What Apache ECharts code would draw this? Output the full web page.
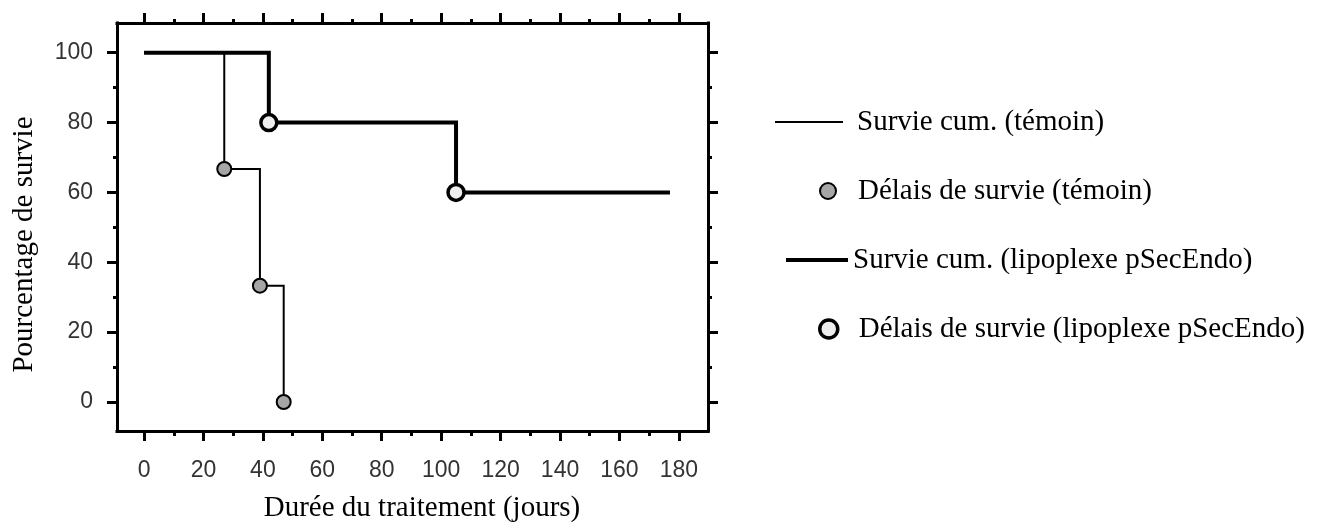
<!DOCTYPE html>
<html>
<head>
<meta charset="utf-8">
<script src="https://cdn.jsdelivr.net/npm/echarts@6.0.0/dist/echarts.min.js"></script>
<style>
  html, body { margin: 0; padding: 0; background: #fff; }
  #chart { width: 1328px; height: 530px; }
</style>
</head>
<body>
<div id="chart"></div>
<script>
// Cumulative survival (Kaplan–Meier steps) — control group vs pSecEndo lipoplex
const controlDays = [0, 27, 39, 47];
const controlSurvival = [100, 66.7, 33.3, 0];
const controlEventDays = [27, 39, 47];
const controlEventSurvival = [66.7, 33.3, 0];

const treatedDays = [0, 42, 105, 177];
const treatedSurvival = [100, 80, 60, 60];
const treatedEventDays = [42, 105];
const treatedEventSurvival = [80, 60];

const dayTicks = [0, 20, 40, 60, 80, 100, 120, 140, 160, 180];
const dayMinorTicks = [10, 30, 50, 70, 90, 110, 130, 150, 170];
const pctTicks = [0, 20, 40, 60, 80, 100];
const pctMinorTicks = [10, 30, 50, 70, 90];

const seriesNames = [
  'Survie cum. (témoin)',
  'Délais de survie (témoin)',
  'Survie cum. (lipoplexe pSecEndo)',
  'Délais de survie (lipoplexe pSecEndo)'
];
const xTitle = 'Durée du traitement (jours)';
const yTitle = 'Pourcentage de survie';

const pairs = (xs, ys) => xs.map((x, i) => [x, ys[i]]);

const SERIF = '"Liberation Serif", "Times New Roman", serif';
const SANS = '"Liberation Sans", Arial, sans-serif';
const X_MIN = -9.1, X_MAX = 189.8;
const Y_MIN = -8.3, Y_MAX = 108.5;

const tickLabelStyle = { fontFamily: SANS, fontSize: 23, color: '#333' };

function xAxisDef(position, ticks, len, withLine, withLabels) {
  return {
    type: 'value', gridIndex: 0, position, min: X_MIN, max: X_MAX,
    axisLine: { show: withLine, onZero: false, lineStyle: { color: '#000', width: 3, cap: 'square' } },
    axisTick: { show: true, inside: false, customValues: ticks, length: len, lineStyle: { color: '#000', width: 3 } },
    axisLabel: withLabels ? Object.assign({ show: true, customValues: ticks, margin: 28 }, tickLabelStyle) : { show: false },
    splitLine: { show: false }
  };
}
function yAxisDef(position, ticks, len, withLine, withLabels) {
  return {
    type: 'value', gridIndex: 0, position, min: Y_MIN, max: Y_MAX,
    axisLine: { show: withLine, onZero: false, lineStyle: { color: '#000', width: 3, cap: 'square' } },
    axisTick: { show: true, inside: false, customValues: ticks, length: len, lineStyle: { color: '#000', width: 3 } },
    axisLabel: withLabels ? Object.assign({ show: true, customValues: ticks, margin: 24 }, tickLabelStyle) : { show: false },
    splitLine: { show: false }
  };
}

const xAxes = [
  xAxisDef('bottom', dayTicks, 10, true, true),
  xAxisDef('bottom', dayMinorTicks, 5, false, false),
  xAxisDef('top', dayTicks, 10, true, false),
  xAxisDef('top', dayMinorTicks, 4, false, false)
];
Object.assign(xAxes[0], {
  name: xTitle, nameLocation: 'middle', nameGap: 63,
  nameTextStyle: { fontFamily: SERIF, fontSize: 29, color: '#000', padding: [0, 0, 0, 19] }
});

const yAxes = [
  yAxisDef('left', pctTicks, 10, true, true),
  yAxisDef('left', pctMinorTicks, 4, false, false),
  yAxisDef('right', pctTicks, 10, true, false),
  yAxisDef('right', pctMinorTicks, 4, false, false)
];
Object.assign(yAxes[0], {
  name: yTitle, nameLocation: 'middle', nameGap: 78, nameRotate: 90,
  nameTextStyle: { fontFamily: SERIF, fontSize: 29, color: '#000', padding: [0, 35, 0, 0] }
});

function legendDef(name, left, top, icon, w, h, gap, itemStyle) {
  return {
    data: [name], left, top, padding: 0, orient: 'horizontal', selectedMode: false,
    icon, itemWidth: w, itemHeight: h, itemStyle,
    textStyle: { fontFamily: SERIF, fontSize: 29, color: '#000', lineHeight: 30, padding: [0, 0, 0, gap] }
  };
}

const option = {
  animation: false,
  backgroundColor: '#fff',
  grid: { left: 117, top: 23, width: 591, height: 408, containLabel: false },
  xAxis: xAxes,
  yAxis: yAxes,
  legend: [
    legendDef(seriesNames[0], 775, 107, 'rect', 68, 2, 9, { color: '#000', borderWidth: 0 }),
    legendDef(seriesNames[1], 819, 176, 'circle', 16, 16, 17, { color: '#a6a6a6', borderColor: '#000', borderWidth: 2 }),
    legendDef(seriesNames[2], 786, 245, 'rect', 62, 4, 0, { color: '#000', borderWidth: 0 }),
    legendDef(seriesNames[3], 818, 314, 'circle', 18, 18, 16, { color: '#eeeeee', borderColor: '#000', borderWidth: 3.5 })
  ],
  series: [
    {
      name: seriesNames[0], type: 'line', step: 'end', xAxisIndex: 0, yAxisIndex: 0,
      data: pairs(controlDays, controlSurvival), symbol: 'none', z: 2,
      color: '#000', lineStyle: { color: '#000', width: 2, join: 'miter' }
    },
    {
      name: seriesNames[2], type: 'line', step: 'end', xAxisIndex: 0, yAxisIndex: 0,
      data: pairs(treatedDays, treatedSurvival), symbol: 'none', z: 3,
      color: '#000', lineStyle: { color: '#000', width: 4, join: 'miter', cap: 'butt' }
    },
    {
      name: seriesNames[1], type: 'scatter', xAxisIndex: 0, yAxisIndex: 0,
      data: pairs(controlEventDays, controlEventSurvival), symbol: 'circle', symbolSize: 14, z: 4,
      itemStyle: { color: '#a6a6a6', borderColor: '#000', borderWidth: 2, opacity: 1 }
    },
    {
      name: seriesNames[3], type: 'scatter', xAxisIndex: 0, yAxisIndex: 0,
      data: pairs(treatedEventDays, treatedEventSurvival), symbol: 'circle', symbolSize: 16, z: 5,
      itemStyle: { color: '#eeeeee', borderColor: '#000', borderWidth: 3.5, opacity: 1 }
    }
  ]
};

const chart = echarts.init(document.getElementById('chart'), null, { renderer: 'canvas' });
chart.setOption(option);
</script>
</body>
</html>
